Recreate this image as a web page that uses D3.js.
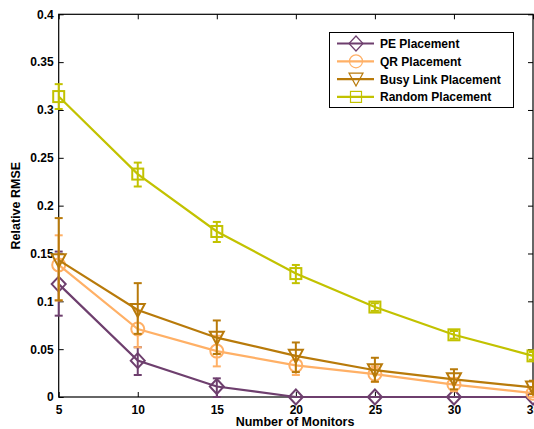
<!DOCTYPE html>
<html><head><meta charset="utf-8">
<script src="https://cdn.jsdelivr.net/npm/d3@7"></script>
<style>body{margin:0;background:#fff}svg{display:block}text{font-family:"Liberation Sans",Arial,sans-serif;font-weight:bold}</style>
</head><body>
<script>
const monitors = [5, 10, 15, 20, 25, 30, 35];
const xTicks = [5, 10, 15, 20, 25, 30, 35];
const yTicks = [0, 0.05, 0.1, 0.15, 0.2, 0.25, 0.3, 0.35, 0.4];
const yTickLabels = ["0", "0.05", "0.1", "0.15", "0.2", "0.25", "0.3", "0.35", "0.4"];
const seriesNames = ["PE Placement", "QR Placement", "Busy Link Placement", "Random Placement"];
const seriesColors = ["#6e3f6e", "#ffb066", "#b87a0a", "#c2c200"];
const seriesMarkers = ["diamond", "circle", "triangle", "square"];
const peMean = [0.118, 0.038, 0.011, 0.0, 0.0, 0.0, 0.0];
const peLow  = [0.085, 0.023, 0.0, 0.0, 0.0, 0.0, 0.0];
const peHigh = [0.152, 0.052, 0.0195, 0.0, 0.0, 0.0, 0.0];
const qrMean = [0.138, 0.071, 0.048, 0.033, 0.024, 0.013, 0.004];
const qrLow  = [0.101, 0.052, 0.032, 0.023, 0.016, 0.006, 0.0];
const qrHigh = [0.169, 0.090, 0.064, 0.043, 0.032, 0.020, 0.008];
const blMean = [0.143, 0.091, 0.062, 0.043, 0.028, 0.0185, 0.010];
const blLow  = [0.101, 0.066, 0.045, 0.026, 0.016, 0.008, 0.003];
const blHigh = [0.187, 0.119, 0.080, 0.057, 0.041, 0.029, 0.017];
const rnMean = [0.314, 0.233, 0.173, 0.129, 0.094, 0.065, 0.043];
const rnLow  = [0.301, 0.220, 0.162, 0.119, 0.090, 0.061, 0.039];
const rnHigh = [0.327, 0.245, 0.183, 0.138, 0.098, 0.069, 0.047];
const means = [peMean, qrMean, blMean, rnMean];
const lows = [peLow, qrLow, blLow, rnLow];
const highs = [peHigh, qrHigh, blHigh, rnHigh];

const W = 534, H = 429;
const m = {l: 58.7, t: 14.3, r: 533, b: 397};
const svg = d3.select("body").append("svg").attr("width", W).attr("height", H);
const x = d3.scaleLinear().domain([5, 35]).range([m.l, m.r]);
const y = d3.scaleLinear().domain([0, 0.4]).range([m.b, m.t]);

const fmt = (d) => yTickLabels[yTicks.indexOf(d)];
const axStyle = g => { g.select(".domain").remove(); g.selectAll("line").attr("stroke", "#000"); g.selectAll("text").attr("font-size", 12).attr("fill","#000"); };
svg.append("g").attr("transform", `translate(0,${m.b})`)
  .call(d3.axisBottom(x).tickValues(xTicks).tickSize(-5).tickPadding(8).tickFormat(d3.format("d")))
  .call(axStyle);
svg.append("g").attr("transform", `translate(0,${m.t})`)
  .call(d3.axisTop(x).tickValues(xTicks).tickSize(-5).tickFormat(""))
  .call(axStyle);
svg.append("g").attr("transform", `translate(${m.l},0)`)
  .call(d3.axisLeft(y).tickValues(yTicks).tickSize(-5).tickPadding(5).tickFormat(fmt))
  .call(axStyle);
svg.append("g").attr("transform", `translate(${m.r},0)`)
  .call(d3.axisRight(y).tickValues(yTicks).tickSize(-5).tickFormat(""))
  .call(axStyle);
svg.append("rect").attr("x", m.l).attr("y", m.t).attr("width", m.r - m.l).attr("height", m.b - m.t)
  .attr("fill", "none").attr("stroke", "#000").attr("stroke-width", 1.2);

function marker(g, type, cx, cy, color) {
  if (type === "diamond") {
    g.append("path").attr("d", `M${cx},${cy-7.5}L${cx+7},${cy}L${cx},${cy+7.5}L${cx-7},${cy}Z`)
      .attr("fill", "none").attr("stroke", color).attr("stroke-width", 2);
  } else if (type === "circle") {
    g.append("circle").attr("cx", cx).attr("cy", cy).attr("r", 6.5)
      .attr("fill", "none").attr("stroke", color).attr("stroke-width", 2);
  } else if (type === "triangle") {
    g.append("path").attr("d", `M${cx-7},${cy-6}L${cx+7},${cy-6}L${cx},${cy+7}Z`)
      .attr("fill", "none").attr("stroke", color).attr("stroke-width", 2);
  } else {
    g.append("rect").attr("x", cx-5.5).attr("y", cy-5.5).attr("width", 11).attr("height", 11)
      .attr("fill", "none").attr("stroke", color).attr("stroke-width", 2);
  }
}

const line = d3.line().x((d, i) => x(monitors[i])).y(d => y(d));
means.forEach((vals, s) => {
  const g = svg.append("g");
  const c = seriesColors[s];
  g.append("path").attr("d", line(vals)).attr("fill", "none").attr("stroke", c).attr("stroke-width", 2.2);
  vals.forEach((v, i) => {
    const cx = x(monitors[i]);
    const lo = lows[s][i], hi = highs[s][i];
    if (hi - lo > 0) {
      g.append("line").attr("x1", cx).attr("x2", cx).attr("y1", y(lo)).attr("y2", y(hi)).attr("stroke", c).attr("stroke-width", 2);
      [lo, hi].forEach(e => g.append("line").attr("x1", cx-4).attr("x2", cx+4).attr("y1", y(e)).attr("y2", y(e)).attr("stroke", c).attr("stroke-width", 2));
    }
    marker(g, seriesMarkers[s], cx, y(v), c);
  });
});

svg.append("text").attr("x", 295).attr("y", 426).attr("text-anchor", "middle").attr("font-size", 12.5).text("Number of Monitors");
svg.append("text").attr("transform", `translate(20,${(m.t + m.b) / 2}) rotate(-90)`).attr("text-anchor", "middle").attr("font-size", 12.5).text("Relative RMSE");

const lg = svg.append("g");
lg.append("rect").attr("x", 329.5).attr("y", 32.5).attr("width", 184).attr("height", 75).attr("fill", "#fff").attr("stroke", "#000").attr("stroke-width", 1);
seriesNames.forEach((n, i) => {
  const ly = 43.5 + i * 17.8;
  lg.append("line").attr("x1", 337).attr("x2", 374).attr("y1", ly).attr("y2", ly).attr("stroke", seriesColors[i]).attr("stroke-width", 2.2);
  const mg = lg.append("g");
  marker(mg, seriesMarkers[i], 356, ly, seriesColors[i]);
  mg.selectAll("*").attr("stroke-width", 1.2).attr("fill", "none");
  lg.append("text").attr("x", 380).attr("y", ly + 4.5).attr("font-size", 12).text(n);
});
</script>
</body></html>
